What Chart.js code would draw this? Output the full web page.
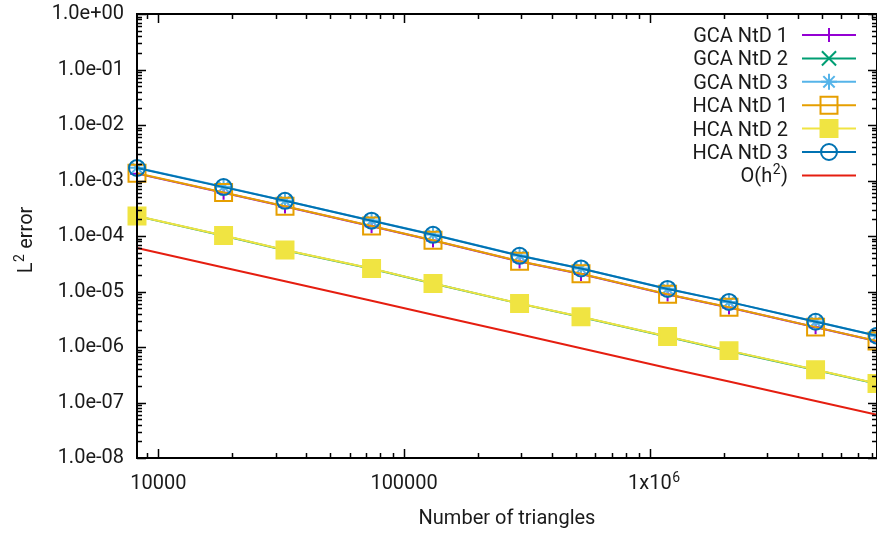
<!DOCTYPE html>
<html>
<head>
<meta charset="utf-8">
<script src="https://cdn.jsdelivr.net/npm/chart.js@4.4.1/dist/chart.umd.min.js"></script>
<style>
  html, body { margin: 0; padding: 0; background: #ffffff; }
  #wrap { width: 877px; height: 536px; position: relative; }
</style>
</head>
<body>
<div id="wrap"><canvas id="c" width="877" height="536"></canvas></div>
<script>
// ---- data ----
const triangles = [8192, 18432, 32768, 73728, 131072, 294912, 524288, 1179648, 2097152, 4718592, 8388608];
const gcaNtD1 = [1.33e-3, 6.0e-4, 3.4e-4, 1.50e-4, 8.3e-5, 3.48e-5, 2.06e-5, 8.8e-6, 5.15e-6, 2.26e-6, 1.27e-6];
const gcaNtD2 = [2.28e-4, 1.01e-4, 5.55e-5, 2.58e-5, 1.39e-5, 6.05e-6, 3.48e-6, 1.53e-6, 8.5e-7, 3.85e-7, 2.18e-7];
const gcaNtD3 = [1.70e-3, 7.7e-4, 4.3e-4, 1.90e-4, 1.06e-4, 4.45e-5, 2.6e-5, 1.12e-5, 6.5e-6, 2.87e-6, 1.6e-6];
const hcaNtD1 = [1.35e-3, 6.1e-4, 3.45e-4, 1.52e-4, 8.4e-5, 3.5e-5, 2.08e-5, 8.9e-6, 5.2e-6, 2.28e-6, 1.28e-6];
const hcaNtD2 = [2.3e-4, 1.02e-4, 5.6e-5, 2.6e-5, 1.4e-5, 6.1e-6, 3.5e-6, 1.54e-6, 8.6e-7, 3.9e-7, 2.2e-7];
const hcaNtD3 = [1.68e-3, 7.6e-4, 4.3e-4, 1.89e-4, 1.05e-4, 4.4e-5, 2.6e-5, 1.11e-5, 6.5e-6, 2.85e-6, 1.6e-6];
const orderH2 = [6.1e-5, 2.71e-5, 1.53e-5, 6.8e-6, 3.8e-6, 1.7e-6, 9.5e-7, 4.2e-7, 2.4e-7, 1.06e-7, 6.0e-8];

// series names: [main text, superscript, trailing text]
const seriesNames = [
  ['GCA NtD 1', '', ''], ['GCA NtD 2', '', ''], ['GCA NtD 3', '', ''],
  ['HCA NtD 1', '', ''], ['HCA NtD 2', '', ''], ['HCA NtD 3', '', ''],
  ['O(h', '2', ')']
];

const xTicks = [10000, 100000, 1000000];
const xTickLabels = [['10000', ''], ['100000', ''], ['1x10', '6']];
const yTicks = [1e-8, 1e-7, 1e-6, 1e-5, 1e-4, 1e-3, 1e-2, 1e-1, 1];
const yTickLabels = ['1.0e-08', '1.0e-07', '1.0e-06', '1.0e-05', '1.0e-04', '1.0e-03', '1.0e-02', '1.0e-01', '1.0e+00'];
const xTitle = 'Number of triangles';
const yTitle = ['L', '2', ' error'];

const xMin = 8192, xMax = 8388608, yMin = 1e-8, yMax = 1;

// ---- styles ----
const FONT = 'Roboto, "Liberation Sans", sans-serif';
const FS = 20, SUP = 14;
const TXT = '#1a1a1a';
const styles = [
  { color: '#9400D3', pointStyle: 'cross',    radius: 7,  fill: false },
  { color: '#009E73', pointStyle: 'crossRot', radius: 10, fill: false },
  { color: '#56B4E9', pointStyle: 'star',     radius: 8,  fill: false },
  { color: '#E69F00', pointStyle: 'rect',     radius: 12, fill: false },
  { color: '#F0E442', pointStyle: 'rect',     radius: 12, fill: true  },
  { color: '#0072B2', pointStyle: 'circle',   radius: 8,  fill: false },
  { color: '#E51E10', pointStyle: false,      radius: 0,  fill: false }
];
const allSeries = [gcaNtD1, gcaNtD2, gcaNtD3, hcaNtD1, hcaNtD2, hcaNtD3, orderH2];

const datasets = allSeries.map((vals, i) => {
  const s = styles[i];
  return {
    label: seriesNames[i].join(''),
    data: triangles.map((x, j) => ({ x: x, y: vals[j] })),
    borderColor: s.color,
    backgroundColor: s.color,
    borderWidth: 2,
    pointStyle: s.pointStyle,
    pointRadius: s.radius,
    pointHoverRadius: s.radius,
    pointBorderWidth: 2,
    pointBorderColor: s.color,
    pointBackgroundColor: s.fill ? s.color : 'rgba(0,0,0,0)',
    tension: 0,
    fill: false,
    clip: false,
    order: 7 - i
  };
});

// ---- frame with inward ticks (gnuplot style) ----
const framePlugin = {
  id: 'frame',
  afterDatasetsDraw(chart) {
    const ctx = chart.ctx;
    const a = chart.chartArea;
    const xs = chart.scales.x, ys = chart.scales.y;
    ctx.save();
    ctx.strokeStyle = '#000';
    ctx.lineWidth = 2;
    ctx.beginPath();
    ctx.rect(a.left, a.top, a.right - a.left, a.bottom - a.top);
    ctx.stroke();
    ctx.lineWidth = 1.5;
    const maj = 9, mnr = 5;
    ctx.beginPath();
    for (let e = 3; e <= 7; e++) {
      for (let m = 1; m <= 9; m++) {
        const v = m * Math.pow(10, e);
        if (v < xMin * 0.9999 || v > xMax * 1.0001) continue;
        const px = Math.round(xs.getPixelForValue(v)) + 0.5;
        const L = m === 1 ? maj : mnr;
        ctx.moveTo(px, a.bottom); ctx.lineTo(px, a.bottom - L);
        ctx.moveTo(px, a.top); ctx.lineTo(px, a.top + L);
      }
    }
    for (let e = -8; e <= 0; e++) {
      for (let m = 1; m <= 9; m++) {
        const v = m * Math.pow(10, e);
        if (v < yMin * 0.9999 || v > yMax * 1.0001) continue;
        const py = Math.round(ys.getPixelForValue(v)) + 0.5;
        const L = m === 1 ? maj : mnr;
        ctx.moveTo(a.left, py); ctx.lineTo(a.left + L, py);
        ctx.moveTo(a.right, py); ctx.lineTo(a.right - L, py);
      }
    }
    ctx.stroke();
    ctx.restore();
  }
};

// ---- text with superscript helper ----
function richWidth(ctx, parts) {
  ctx.font = FS + 'px ' + FONT; const w0 = ctx.measureText(parts[0]).width;
  ctx.font = SUP + 'px ' + FONT; const w1 = parts[1] ? ctx.measureText(parts[1]).width : 0;
  ctx.font = FS + 'px ' + FONT; const w2 = parts[2] ? ctx.measureText(parts[2]).width : 0;
  return [w0, w1, w2];
}
function drawRich(ctx, parts, x, y) { // left-aligned at x, alphabetic baseline y
  const w = richWidth(ctx, parts);
  ctx.textAlign = 'left'; ctx.textBaseline = 'alphabetic';
  ctx.font = FS + 'px ' + FONT; ctx.fillText(parts[0], x, y);
  if (parts[1]) { ctx.font = SUP + 'px ' + FONT; ctx.fillText(parts[1], x + w[0] + 0.5, y - 8); }
  if (parts[2]) { ctx.font = FS + 'px ' + FONT; ctx.fillText(parts[2], x + w[0] + w[1] + 1, y); }
  return w[0] + w[1] + w[2] + (parts[1] ? 1 : 0);
}

// ---- gnuplot-like legend, superscripts, y title ----
function drawMarker(ctx, style, x, y) {
  const r = style.radius;
  ctx.beginPath();
  switch (style.pointStyle) {
    case 'cross':
      ctx.moveTo(x - r, y); ctx.lineTo(x + r, y);
      ctx.moveTo(x, y - r); ctx.lineTo(x, y + r);
      ctx.stroke(); break;
    case 'crossRot': {
      const d = r * Math.SQRT1_2;
      ctx.moveTo(x - d, y - d); ctx.lineTo(x + d, y + d);
      ctx.moveTo(x - d, y + d); ctx.lineTo(x + d, y - d);
      ctx.stroke(); break;
    }
    case 'star': {
      const d = r * Math.SQRT1_2;
      ctx.moveTo(x - r, y); ctx.lineTo(x + r, y);
      ctx.moveTo(x, y - r); ctx.lineTo(x, y + r);
      ctx.moveTo(x - d, y - d); ctx.lineTo(x + d, y + d);
      ctx.moveTo(x - d, y + d); ctx.lineTo(x + d, y - d);
      ctx.stroke(); break;
    }
    case 'rect': {
      const h = r * Math.SQRT1_2;
      ctx.rect(x - h, y - h, 2 * h, 2 * h);
      if (style.fill) ctx.fill();
      ctx.stroke(); break;
    }
    case 'circle':
      ctx.arc(x, y, r, 0, Math.PI * 2);
      ctx.stroke(); break;
  }
}
const textPlugin = {
  id: 'gpText',
  afterDraw(chart) {
    const ctx = chart.ctx;
    ctx.save();
    // legend
    const textRight = 788, lx0 = 802, lx1 = 856, mx = 829;
    seriesNames.forEach((parts, i) => {
      const y = 35 + i * 23.4;
      const s = styles[i];
      const w = richWidth(ctx, parts);
      const tw = w[0] + w[1] + w[2] + (parts[1] ? 1 : 0);
      ctx.fillStyle = TXT;
      drawRich(ctx, parts, textRight - tw, y + 7);
      ctx.strokeStyle = s.color;
      ctx.fillStyle = s.color;
      ctx.lineWidth = 2;
      ctx.beginPath();
      ctx.moveTo(lx0, y); ctx.lineTo(lx1, y);
      ctx.stroke();
      if (s.pointStyle) drawMarker(ctx, s, mx, y);
    });
    // superscripts of x tick labels
    const xs = chart.scales.x;
    xTickLabels.forEach((lab, i) => {
      if (!lab[1]) return;
      ctx.font = FS + 'px ' + FONT;
      const w = ctx.measureText(lab[0]).width;
      const px = xs.getPixelForValue(xTicks[i]);
      ctx.fillStyle = TXT;
      ctx.font = SUP + 'px ' + FONT;
      ctx.textAlign = 'left'; ctx.textBaseline = 'alphabetic';
      ctx.fillText(lab[1], px + w / 2 + 0.5, 490 - 8);
    });
    // y title (rotated)
    ctx.fillStyle = TXT;
    const w = richWidth(ctx, yTitle);
    const tw = w[0] + w[1] + w[2] + 1;
    ctx.translate(32, 240);
    ctx.rotate(-Math.PI / 2);
    drawRich(ctx, yTitle, -tw / 2, 0);
    ctx.restore();
  }
};

new Chart(document.getElementById('c'), {
  type: 'line',
  data: { datasets: datasets },
  plugins: [framePlugin, textPlugin],
  options: {
    responsive: false,
    animation: false,
    events: [],
    layout: { autoPadding: false, padding: { top: 14, right: 0, left: 0, bottom: 0 } },
    plugins: { legend: { display: false }, tooltip: { enabled: false } },
    scales: {
      x: {
        type: 'logarithmic',
        position: 'bottom',
        min: xMin, max: xMax,
        afterBuildTicks(s) { s.ticks = xTicks.map(v => ({ value: v, major: true })); },
        afterFit(s) { s.height = 78; s.paddingLeft = 0; s.paddingRight = 0; },
        grid: { display: false, drawTicks: false },
        border: { display: false },
        ticks: {
          autoSkip: false, maxRotation: 0, minRotation: 0,
          padding: 14, color: TXT,
          font: { family: FONT, size: FS },
          callback: (v, i) => xTickLabels[i][0]
        },
        title: {
          display: true, text: xTitle, color: TXT,
          font: { family: FONT, size: FS },
          padding: { top: 0, bottom: 5 }
        }
      },
      y: {
        type: 'logarithmic',
        position: 'left',
        min: yMin, max: yMax,
        afterBuildTicks(s) { s.ticks = yTicks.map(v => ({ value: v, major: true })); },
        afterFit(s) { s.width = 137; s.paddingTop = 0; s.paddingBottom = 0; },
        grid: { display: false, drawTicks: false },
        border: { display: false },
        ticks: {
          autoSkip: false, padding: 13, color: TXT,
          font: { family: FONT, size: FS },
          callback: (v, i) => yTickLabels[i]
        },
        title: { display: false }
      }
    }
  }
});
</script>
</body>
</html>
